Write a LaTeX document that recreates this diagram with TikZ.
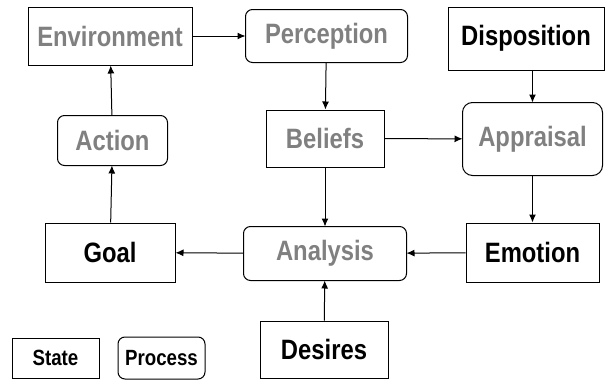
\documentclass[tikz,border=0pt]{standalone}
\usepackage{fontspec}
\setmainfont[FakeStretch=0.85]{Liberation Sans}
\usepackage{tikz}
\usetikzlibrary{arrows.meta, positioning}

\definecolor{procgray}{RGB}{128,128,128}

\begin{document}
\begin{tikzpicture}[
  x=1pt, y=-1pt,
  state/.style={
    draw=black, line width=1pt, inner sep=0pt,
    font=\fontsize{28}{30}\selectfont\bfseries
  },
  grayed/.style={text=procgray},
  process/.style={
    state, grayed, draw=none,
    append after command={
      \pgfextra{\draw[black, line width=1pt, rounded corners=#1]
        (\tikzlastnode.north west) rectangle (\tikzlastnode.south east);}
    }
  },
  process/.default=7pt,
  legend/.style={font=\fontsize{22}{24}\selectfont\bfseries},
  arr/.style={-{Latex[length=8pt, width=7pt]}, line width=1pt}
]
\useasboundingbox (0,0) rectangle (605,380);

% 1. Top row
\node[state, grayed, minimum width=164pt, minimum height=58pt] (env) at (110,36) {Environment};
\node[process, minimum width=161pt, minimum height=52pt] (perception) at (326.5,36) {Perception};
\node[state, minimum width=156pt, minimum height=63pt] (disposition) at (526,38.5) {Disposition};

% 2. Middle row
\node[process, minimum width=109pt, minimum height=49pt] (action) at (112.5,140.5) {Action};
\node[state, grayed, minimum width=118pt, minimum height=57pt] (beliefs) at (325,138.5) {Beliefs};
\node[process=10pt, minimum width=139pt, minimum height=72pt] (appraisal) at (532.5,139) {Appraisal};

% 3. Lower row
\node[state, minimum width=130pt, minimum height=59pt] (goal) at (110,252.5) {Goal};
\node[process, minimum width=162pt, minimum height=53pt] (analysis) at (325,253.5) {Analysis};
\node[state, minimum width=133pt, minimum height=59pt] (emotion) at (532.5,252.5) {Emotion};
\node[state, minimum width=128pt, minimum height=57pt] (desires) at (324,349.5) {Desires};

% 4. Legend
\node[state, legend, minimum width=87pt, minimum height=40pt] (stlegend) at (55.5,358) {State};
\node[state, legend, rounded corners=7pt, minimum width=87pt, minimum height=42pt] (prlegend) at (161.5,358) {Process};

% Arrows
\draw[arr] (env) -- (perception);
\draw[arr] (perception) -- (beliefs);
\draw[arr] (appraisal.north |- disposition.south) -- (appraisal.north);
\draw[arr] (beliefs) -- (appraisal);
\draw[arr] (appraisal) -- (emotion);
\draw[arr] (beliefs) -- (analysis);
\draw[arr] (emotion) -- (analysis);
\draw[arr] (desires) -- (analysis);
\draw[arr] (analysis) -- (goal);
\draw[arr] (goal) -- (action);
\draw[arr] (action) -- (env);

\end{tikzpicture}
\end{document}
